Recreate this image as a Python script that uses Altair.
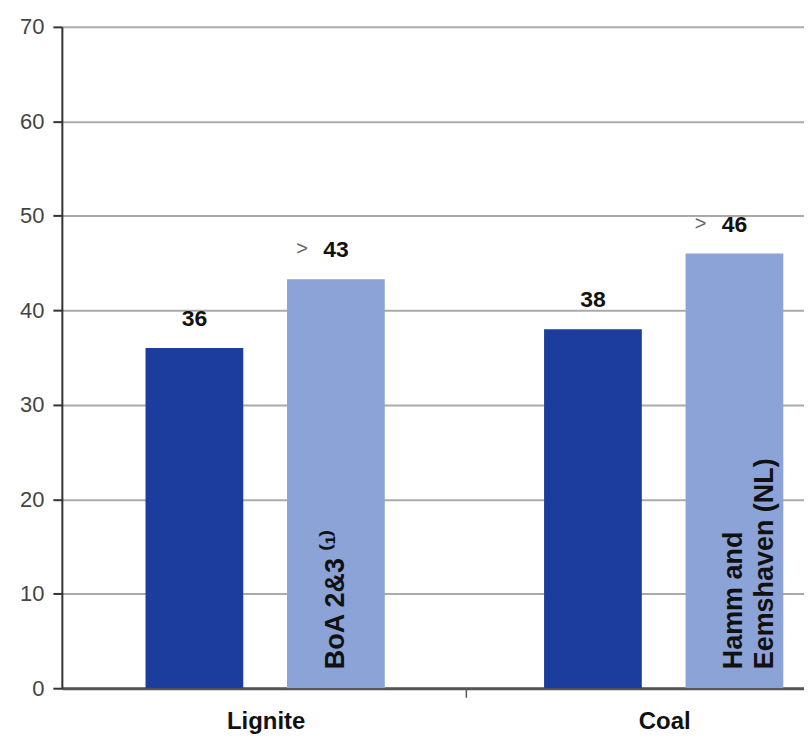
import altair as alt
import pandas as pd

categories = ["Lignite", "Coal"]
series = ["Average", "Best"]
avg_values = [36, 38]
best_values = [43.3, 46]
avg_labels = ["36", "38"]
best_labels = ["43", "46"]
notes = [["BoA 2&3 ⁽¹⁾"], ["Hamm and", "Eemshaven (NL)"]]

DARK = "#1c3d9d"
LIGHT = "#8ba3d7"
FONT = "Liberation Sans"

# layout of a category band (fraction of the band)
OFF = {"Average": 0.32, "Best": 0.675}
BAND_PX = 405
W = 744
H = 663

rows = []
for i, c in enumerate(categories):
    rows.append(dict(cat=c, idx=i, series="Average", value=avg_values[i], label=avg_labels[i], note=None))
    rows.append(dict(cat=c, idx=i, series="Best", value=best_values[i], label=best_labels[i], note=notes[i]))
df = pd.DataFrame(rows)
df["pos"] = df["idx"] + df["series"].map(OFF)
df["zero"] = 0
cat_df = pd.DataFrame({"cat": categories, "center": [i + 0.5 for i in range(len(categories))], "zero": 0})

xscale = alt.Scale(domain=[0, W / BAND_PX], nice=False, zero=False)
yscale = alt.Scale(domain=[0, 70], nice=False)

base = alt.Chart(df)

bars = base.mark_bar(size=98, clip=True).encode(
    x=alt.X("pos:Q", scale=xscale,
            axis=alt.Axis(values=[1], labels=False, title=None, grid=False,
                          domainColor="#555555", domainWidth=3, tickColor="#555555",
                          tickWidth=1.5, tickSize=9)),
    y=alt.Y("value:Q", scale=yscale,
            axis=alt.Axis(values=[0, 10, 20, 30, 40, 50, 60, 70], title=None,
                          grid=True, gridColor="#aaaaaa", gridWidth=2,
                          domainColor="#333333", domainWidth=2,
                          tickColor="#333333", tickWidth=2, tickSize=9,
                          labelFont=FONT, labelFontSize=22, labelColor="#444444",
                          labelPadding=9)),
    color=alt.Color("series:N", scale=alt.Scale(domain=series, range=[DARK, LIGHT]), legend=None),
)

value_text = base.mark_text(font=FONT, fontSize=23, fontWeight="bold", color="#111111",
                            baseline="alphabetic", dy=-22, clip=True).encode(
    x=alt.X("pos:Q", scale=xscale),
    y=alt.Y("value:Q", scale=yscale),
    text="label:N",
)

gt_text = base.transform_filter(alt.datum.series == "Best").mark_text(
    font=FONT, fontSize=20, color="#666666", baseline="alphabetic", dy=-24, dx=-34, clip=True
).encode(
    x=alt.X("pos:Q", scale=xscale),
    y=alt.Y("value:Q", scale=yscale),
    text=alt.value(">"),
)

note_text = base.transform_filter(alt.datum.series == "Best").mark_text(
    font=FONT, fontSize=27, fontWeight="bold", color="#111111", angle=270,
    align="left", baseline="middle", dx=19, dy=0, lineHeight=31, clip=True
).encode(
    x=alt.X("pos:Q", scale=xscale),
    y=alt.Y("zero:Q", scale=yscale),
    text="note",
)

cat_text = alt.Chart(cat_df).mark_text(
    font=FONT, fontSize=24, fontWeight="bold", color="#111111", baseline="middle", dy=34
).encode(
    x=alt.X("center:Q", scale=xscale),
    y=alt.Y("zero:Q", scale=yscale),
    text="cat:N",
)

chart = alt.layer(bars, value_text, gt_text, note_text, cat_text).properties(
    width=W, height=H,
    padding={"left": 11, "top": 7, "right": 0, "bottom": 5},
).configure_view(stroke=None).configure(background="white")

chart.save("out.html", embed_options={"renderer": "svg", "actions": False})
